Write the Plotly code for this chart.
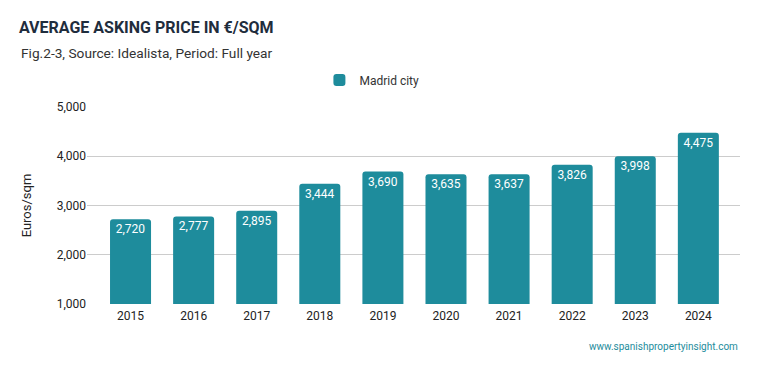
import plotly.graph_objects as go

years = ["2015", "2016", "2017", "2018", "2019", "2020", "2021", "2022", "2023", "2024"]
prices = [2720, 2777, 2895, 3444, 3690, 3635, 3637, 3826, 3998, 4475]
series_name = "Madrid city"
y_ticks = [1000, 2000, 3000, 4000, 5000]

bar_color = "#1e8c9c"
W, H = 759, 371

fig = go.Figure()
fig.add_trace(go.Bar(
    x=years, y=prices, name=series_name,
    marker=dict(color=bar_color, line=dict(width=0)),
    width=0.65,
    text=[f"{v:,}" for v in prices],
    textposition="inside", insidetextanchor="end",
    textfont=dict(color="white", size=12, family="Roboto"),
    textangle=0,
))

fig.update_layout(
    width=W, height=H,
    margin=dict(l=87, r=19, t=107, b=67, autoexpand=False),
    paper_bgcolor="white", plot_bgcolor="white",
    font=dict(family="Roboto", color="#222222", size=12),
    barcornerradius=3,
    showlegend=True,
    legend=dict(orientation="h", x=0.49, xanchor="center", xref="container",
                y=1 - 80 / H, yref="container", yanchor="middle",
                font=dict(size=12, color="#333333")),
    title=dict(
        text="<b>AVERAGE ASKING PRICE IN €/SQM</b>",
        x=19 / W, xref="container", xanchor="left",
        y=1 - 27 / H, yref="container", yanchor="middle",
        font=dict(size=16, color="#1f2d3d", family="Roboto"),
    ),
    xaxis=dict(
        type="category", range=[-0.69, 9.66], automargin=False,
        showgrid=False, showline=False, ticks="", ticklabelstandoff=3,
        tickfont=dict(size=12, color="#222222"),
    ),
    yaxis=dict(
        range=[1000, 5000], tickvals=y_ticks, automargin=False,
        tickformat=",", showgrid=True, gridcolor="#cccccc", gridwidth=1,
        zeroline=False, showline=False, ticks="",
        tickfont=dict(size=12, color="#222222"),
        title=dict(text="Euros/sqm", font=dict(size=13, color="#222222"), standoff=22),
    ),
)

fig.add_annotation(
    text="Fig.2-3, Source: Idealista, Period: Full year",
    xref="paper", yref="paper", x=-68 / 653, y=1 + (107 - 53) / 197,
    xanchor="left", yanchor="middle", showarrow=False,
    font=dict(size=13.7, color="#333333", family="Roboto"),
)
fig.add_annotation(
    text="www.spanishpropertyinsight.com",
    xref="paper", yref="paper", x=1, y=-(346 - 304) / 197,
    xanchor="right", yanchor="middle", showarrow=False,
    font=dict(size=10, color="#1e8c9c", family="Roboto"),
)

fig.write_html("out.html", config={"displayModeBar": False},
               post_script="document.body.style.margin='0';")
